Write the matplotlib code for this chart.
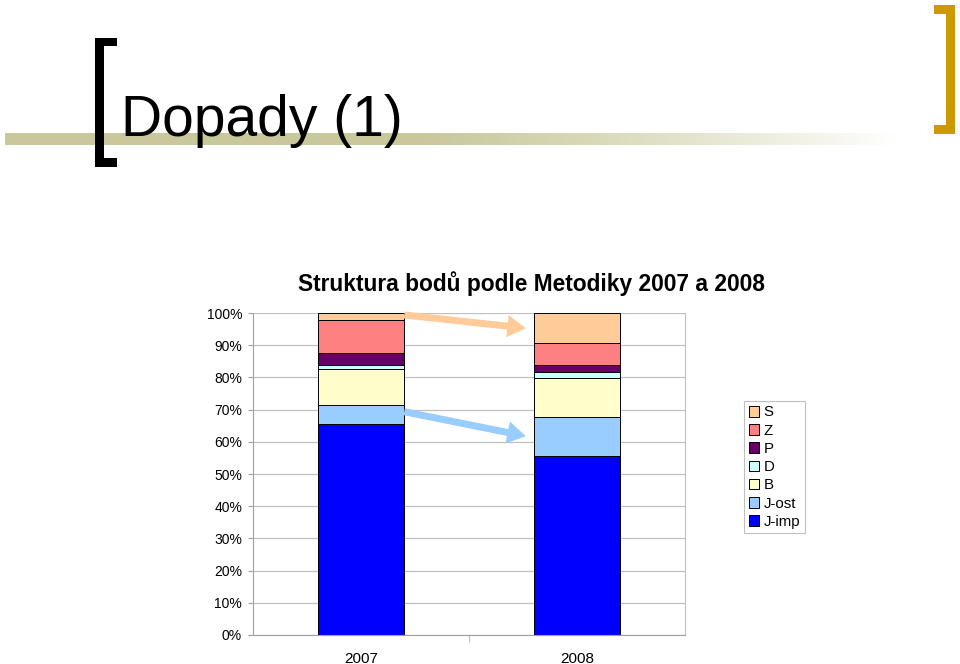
import numpy as np
import matplotlib
matplotlib.use("Agg")
import matplotlib.pyplot as plt
from matplotlib.patches import Rectangle, Patch

# data (percent of points)
years = ["2007", "2008"]
series = ["J-imp", "J-ost", "B", "D", "P", "Z", "S"]
j_imp = [65.4, 55.7]
j_ost = [5.9, 12.1]
b_val = [11.2, 12.1]
d_val = [1.4, 1.9]
p_val = [3.7, 2.0]
z_val = [10.1, 6.8]
s_val = [2.3, 9.4]
colors = ["#0000FF", "#99CCFF", "#FFFFCC", "#CCFFFF", "#660066", "#FF8080", "#FFCC99"]

W, H = 960, 664
fig = plt.figure(figsize=(W / 100, H / 100), dpi=100)
plt.rcParams['font.family'] = ['Liberation Sans', 'DejaVu Sans']

def px(x0, y0, x1, y1):
    # pixel box -> figure fraction rectangle
    return (x0 / W, 1 - y1 / H), (x1 - x0) / W, (y1 - y0) / H

# slide header: gradient bar, brackets, title
gax = fig.add_axes([5 / W, 1 - 145 / H, 895 / W, 12 / H])
grad = np.linspace(0, 1, 256)
base = np.array([200, 200, 154]) / 255.0
fade = np.clip((grad - 0.45) / 0.55, 0, 1) ** 1.2
rgb = base[None, :] * (1 - fade[:, None]) + fade[:, None]
gax.imshow(rgb[None, :, :], aspect="auto", extent=(0, 1, 0, 1))
gax.axis("off")

for box, col in [((95, 38, 104, 167), "black"), ((95, 38, 117, 46), "black"),
                 ((95, 158, 117, 167), "black"),
                 ((946, 5, 955, 134), "#CC9900"), ((934, 5, 955, 14), "#CC9900"),
                 ((934, 125, 955, 134), "#CC9900")]:
    xy, w, h = px(*box)
    fig.add_artist(Rectangle(xy, w, h, transform=fig.transFigure, color=col, lw=0))

fig.text(121 / W, 1 - 136.5 / H, "Dopady (1)", fontsize=41,
         family=['Liberation Sans Narrow', 'Liberation Sans', 'DejaVu Sans'],
         va="baseline", ha="left", color="black")

# chart
ax = fig.add_axes([253 / W, 1 - 635 / H, 432 / W, 322 / H])
x = np.arange(len(years))
vals = [j_imp, j_ost, b_val, d_val, p_val, z_val, s_val]
bottom = np.zeros(len(years))
mids = {}
for name, v, c in zip(series, vals, colors):
    v = np.array(v)
    ax.bar(x, v, 0.4, bottom=bottom, color=c, edgecolor="black", linewidth=0.7,
           label=name, zorder=2)
    mids[name] = bottom + v / 2
    bottom = bottom + v

ax.set_xlim(-0.5, 1.5)
ax.set_ylim(0, 100)
ax.set_yticks(np.arange(0, 101, 10))
ax.set_yticklabels([f"{t}%" for t in range(0, 101, 10)], fontsize=10)
ax.yaxis.grid(True, color="#C0C0C0", linewidth=0.9, zorder=0)
ax.set_axisbelow(True)
ax.set_xticks([0.5])
ax.set_xticklabels([""])
ax.tick_params(axis="x", length=5, color="#C0C0C0", direction="out")
ax.tick_params(axis="y", length=3.6, color="#A0A0A0", direction="out", pad=4.3)
for yr, xi in zip(years, x):
    ax.text(xi, -7.3, yr, ha="center", va="center", fontsize=11,
            transform=ax.transData)
for sp in ax.spines.values():
    sp.set_color("#C0C0C0")
ax.spines["left"].set_color("#A0A0A0")
ax.spines["bottom"].set_color("#A0A0A0")
ax.spines["top"].set_visible(False)

# arrows between segments of the two bars
astyle = "simple,head_length=0.95,head_width=1.15,tail_width=0.36"
ax.annotate("", xy=(0.8 - 0.037, mids["S"][1]), xytext=(0.2, 99.4),
            arrowprops=dict(arrowstyle=astyle, color="#FFCC99", lw=0,
                            shrinkA=0, shrinkB=0, mutation_scale=14), zorder=3)
ax.annotate("", xy=(0.8 - 0.037, mids["J-ost"][1]), xytext=(0.2, mids["J-ost"][0] + 1),
            arrowprops=dict(arrowstyle=astyle, color="#99CCFF", lw=0,
                            shrinkA=0, shrinkB=0, mutation_scale=14), zorder=3)

fig.text(531 / W, 1 - 291 / H, "Struktura bodů podle Metodiky 2007 a 2008",
         ha="center", va="baseline", fontsize=16.4, fontweight="bold")

handles = [Patch(facecolor=c, edgecolor="black", linewidth=0.7) for c in colors][::-1]
leg = fig.legend(handles, series[::-1], loc="upper left",
                 bbox_to_anchor=(744 / W, 1 - 401 / H), fontsize=10.8,
                 handlelength=0.7, handleheight=0.7, handletextpad=0.3,
                 labelspacing=0.28, borderpad=0.3, borderaxespad=0,
                 fancybox=False, edgecolor="#C0C0C0", framealpha=1)
leg.get_frame().set_linewidth(0.8)

fig.savefig("out.png", dpi=100)
